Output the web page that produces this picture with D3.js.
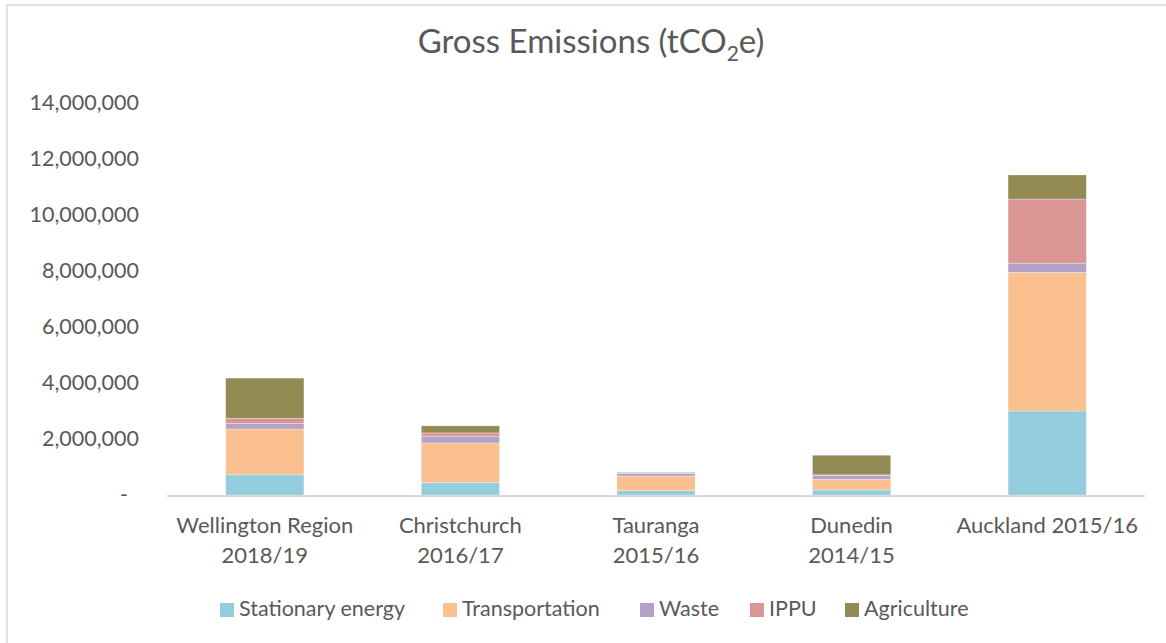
<!DOCTYPE html>
<html>
<head>
<meta charset="utf-8">
<script src="https://cdn.jsdelivr.net/npm/d3@7"></script>
<style>
  body { margin: 0; background: #fff; }
  text { font-family: Lato, "Open Sans", sans-serif; fill: #595959; }
</style>
</head>
<body>
<div id="chart"></div>
<script>
// categories (split into label lines)
var categories = ["Wellington Region 2018/19", "Christchurch 2016/17", "Tauranga 2015/16", "Dunedin 2014/15", "Auckland 2015/16"];
var labelLines = [["Wellington Region", "2018/19"], ["Christchurch", "2016/17"], ["Tauranga", "2015/16"], ["Dunedin", "2014/15"], ["Auckland 2015/16"]];

// series values, tCO2e
var seriesNames = ["Stationary energy", "Transportation", "Waste", "IPPU", "Agriculture"];
var stationary = [725000, 440000, 155000, 180000, 3000000];
var transportation = [1630000, 1420000, 520000, 380000, 4950000];
var waste = [200000, 240000, 100000, 130000, 330000];
var ippu = [180000, 120000, 10000, 30000, 2290000];
var agriculture = [1440000, 250000, 20000, 700000, 860000];
var yTicks = [0, 2000000, 4000000, 6000000, 8000000, 10000000, 12000000, 14000000];

var colors = ["#93CDDD", "#FAC090", "#B3A2C7", "#D99694", "#948A54"];

var width = 1166, height = 643;
var margin = {left: 167, right: 21, top: 103, bottom: 148};

var rows = categories.map(function(c, i) {
    return {cat: c, "Stationary energy": stationary[i], "Transportation": transportation[i],
        "Waste": waste[i], "IPPU": ippu[i], "Agriculture": agriculture[i]};
});

var svg = d3.select("#chart").append("svg")
    .attr("width", width)
    .attr("height", height);

// outer chart border (only top/left visible in frame)
svg.append("rect")
    .attr("x", 7).attr("y", 5)
    .attr("width", width + 20).attr("height", height + 20)
    .attr("fill", "none")
    .attr("stroke", "#D9D9D9")
    .attr("stroke-width", 1.5);

var x = d3.scaleBand()
    .domain(categories)
    .range([margin.left, width - margin.right])
    .paddingInner(0.6)
    .paddingOuter(0.3);

var y = d3.scaleLinear()
    .domain([0, 14000000])
    .range([height - margin.bottom, margin.top]);

var stack = d3.stack().keys(seriesNames);
var layers = stack(rows);

// y axis labels
var fmt = d3.format(",");
var yAxis = svg.append("g")
    .attr("transform", "translate(" + (margin.left - 28) + ",0)")
    .call(d3.axisLeft(y).tickValues(yTicks).tickSize(0).tickPadding(0)
        .tickFormat(function(d) { return d === 0 ? "-" : fmt(d); }));
yAxis.select(".domain").remove();
yAxis.selectAll("text")
    .style("font-size", "21.5px")
    .style("font-family", "Lato, sans-serif")
    .attr("fill", "#595959")
    .attr("dx", function(d) { return d === 0 ? -11 : 0; });

// bars
svg.append("g").selectAll("g")
    .data(layers)
    .enter().append("g")
    .attr("fill", function(d, i) { return colors[i]; })
    .selectAll("rect")
    .data(function(d) { return d; })
    .enter().append("rect")
    .attr("x", function(d) { return x(d.data.cat); })
    .attr("y", function(d) { return y(d[1]); })
    .attr("height", function(d) { return y(d[0]) - y(d[1]); })
    .attr("width", x.bandwidth())
    .attr("stroke", "#fff")
    .attr("stroke-opacity", 0.4)
    .attr("stroke-width", 0.75);

// x axis
svg.append("line")
    .attr("x1", margin.left).attr("x2", width - margin.right)
    .attr("y1", y(0) + 1).attr("y2", y(0) + 1)
    .attr("stroke", "#D9D9D9")
    .attr("stroke-width", 2);

var xl = svg.append("g").selectAll("text")
    .data(categories)
    .enter().append("text")
    .attr("text-anchor", "middle")
    .attr("x", function(d) { return x(d) + x.bandwidth() / 2; })
    .attr("y", 533)
    .style("font-size", "22px");
xl.selectAll("tspan")
    .data(function(d, i) { return labelLines[i]; })
    .enter().append("tspan")
    .attr("x", function() { var c = d3.select(this.parentNode).datum(); return x(c) + x.bandwidth() / 2; })
    .attr("dy", function(d, i) { return i === 0 ? 0 : 30; })
    .text(function(d) { return d; });

// title
var title = svg.append("text")
    .attr("x", 591)
    .attr("y", 53)
    .attr("text-anchor", "middle")
    .style("font-size", "33px");
title.append("tspan").text("Gross Emissions (tCO");
title.append("tspan").attr("dy", 8).style("font-size", "21px").text("2");
title.append("tspan").attr("dy", -8).text("e)");

// legend
var legendX = [220, 443, 640, 750, 845];
var legend = svg.append("g").selectAll("g")
    .data(seriesNames)
    .enter().append("g")
    .attr("transform", function(d, i) { return "translate(" + legendX[i] + ",603)"; });
legend.append("rect")
    .attr("width", 14).attr("height", 14)
    .attr("fill", function(d, i) { return colors[i]; });
legend.append("text")
    .attr("x", 19)
    .attr("y", 13)
    .style("font-size", "21.5px")
    .text(function(d) { return d; });
</script>
</body>
</html>
